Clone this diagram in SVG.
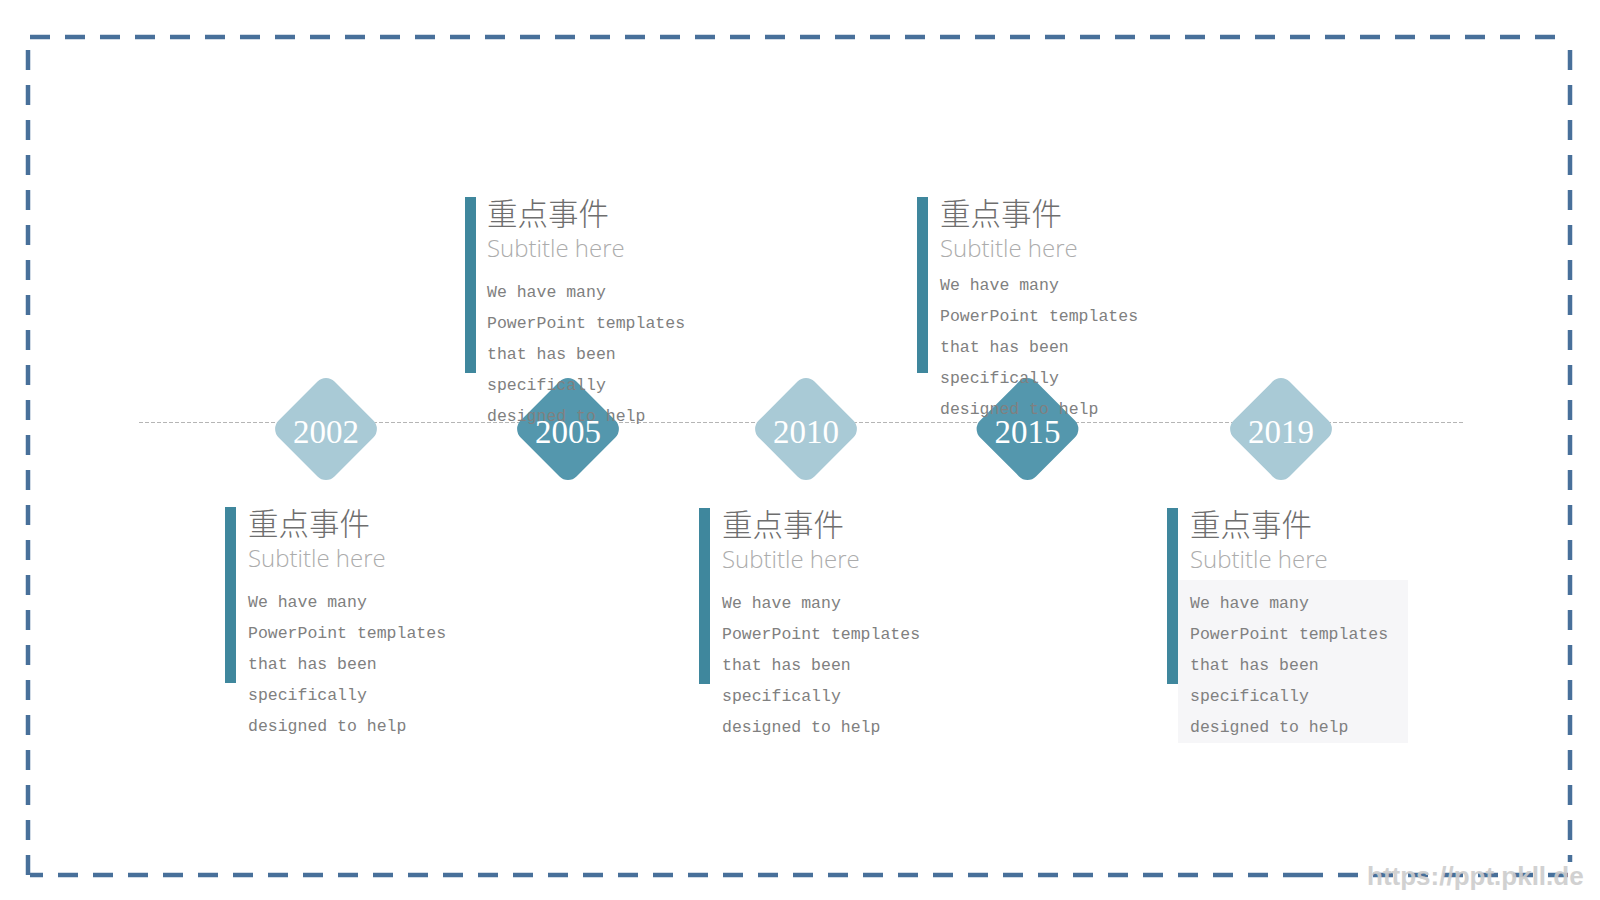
<svg xmlns="http://www.w3.org/2000/svg" width="1600" height="900" viewBox="0 0 1600 900">
<style>
.border{stroke:#48709a;stroke-width:4.5;stroke-dasharray:20 15;fill:none}
.axis{stroke:#b5b5b5;stroke-width:1;stroke-dasharray:4 2;fill:none}
.dl{fill:#a9cad6}
.dd{fill:#5497ad}
.yr{font-family:"Liberation Serif","Times New Roman",serif;font-size:33px;fill:#ffffff;text-anchor:middle}
.bar{fill:#3f879d}
.ttl{font-family:"Noto Sans CJK SC","Noto Sans",sans-serif;font-weight:300;font-size:30.5px;fill:#6e6e6e}
.sub{font-family:"Open Sans","Noto Sans",sans-serif;font-weight:300;font-size:24px;fill:#acacac}
.body{font-family:"Liberation Mono","Courier New",monospace;font-size:16.5px;fill:#808080}
.wm{font-family:"Liberation Sans",Arial,sans-serif;font-weight:bold;font-size:26px;fill:#cdcdcd;opacity:0.9}
</style>
<rect width="1600" height="900" fill="#ffffff"/>
<g id="frame">
<line class="border" x1="30" y1="37" x2="1570" y2="37"/>
<line class="border" x1="28" y1="50" x2="28" y2="875"/>
<line class="border" x1="1570" y1="50" x2="1570" y2="862"/>
<line class="border" x1="1303" y1="875" x2="30" y2="875"/>
<line class="border" x1="1303" y1="875" x2="1570" y2="875"/>
</g>
<g id="connectors">
<line class="axis" x1="139" y1="422.5" x2="1463" y2="422.5"/>
</g>
<g id="node-2002">
<rect class="dl" x="-39.5" y="-39.5" width="79" height="79" rx="12" transform="translate(326 429) rotate(45)"/>
<text class="yr" x="326" y="443">2002</text>
</g>
<g id="node-2005">
<rect class="dd" x="-39.5" y="-39.5" width="79" height="79" rx="12" transform="translate(568 429) rotate(45)"/>
<text class="yr" x="568" y="443">2005</text>
</g>
<g id="node-2010">
<rect class="dl" x="-39.5" y="-39.5" width="79" height="79" rx="12" transform="translate(806 429) rotate(45)"/>
<text class="yr" x="806" y="443">2010</text>
</g>
<g id="node-2015">
<rect class="dd" x="-39.5" y="-39.5" width="79" height="79" rx="12" transform="translate(1027.5 429) rotate(45)"/>
<text class="yr" x="1027.5" y="443">2015</text>
</g>
<g id="node-2019">
<rect class="dl" x="-39.5" y="-39.5" width="79" height="79" rx="12" transform="translate(1281 429) rotate(45)"/>
<text class="yr" x="1281" y="443">2019</text>
</g>
<g id="event-1">
<rect class="bar" x="225" y="507" width="11" height="176"/>
<text class="ttl" x="248" y="535">重点事件</text>
<text class="sub" x="248" y="567">Subtitle here</text>
<text class="body" x="248" y="607">We have many</text>
<text class="body" x="248" y="638">PowerPoint templates</text>
<text class="body" x="248" y="669">that has been</text>
<text class="body" x="248" y="700">specifically</text>
<text class="body" x="248" y="731">designed to help</text>
</g>
<g id="event-2">
<rect class="bar" x="465" y="197" width="11" height="176"/>
<text class="ttl" x="487" y="225">重点事件</text>
<text class="sub" x="487" y="257">Subtitle here</text>
<text class="body" x="487" y="297">We have many</text>
<text class="body" x="487" y="328">PowerPoint templates</text>
<text class="body" x="487" y="359">that has been</text>
<text class="body" x="487" y="390">specifically</text>
<text class="body" x="487" y="421">designed to help</text>
</g>
<g id="event-3">
<rect class="bar" x="699" y="508" width="11" height="176"/>
<text class="ttl" x="722" y="536">重点事件</text>
<text class="sub" x="722" y="568">Subtitle here</text>
<text class="body" x="722" y="608">We have many</text>
<text class="body" x="722" y="639">PowerPoint templates</text>
<text class="body" x="722" y="670">that has been</text>
<text class="body" x="722" y="701">specifically</text>
<text class="body" x="722" y="732">designed to help</text>
</g>
<g id="event-4">
<rect class="bar" x="917" y="197" width="11" height="176"/>
<text class="ttl" x="940" y="225">重点事件</text>
<text class="sub" x="940" y="257">Subtitle here</text>
<text class="body" x="940" y="290">We have many</text>
<text class="body" x="940" y="321">PowerPoint templates</text>
<text class="body" x="940" y="352">that has been</text>
<text class="body" x="940" y="383">specifically</text>
<text class="body" x="940" y="414">designed to help</text>
</g>
<g id="event-5">
<rect x="1178" y="580" width="230" height="163" fill="#f6f6f8"/>
<rect class="bar" x="1167" y="508" width="11" height="176"/>
<text class="ttl" x="1190" y="536">重点事件</text>
<text class="sub" x="1190" y="568">Subtitle here</text>
<text class="body" x="1190" y="608">We have many</text>
<text class="body" x="1190" y="639">PowerPoint templates</text>
<text class="body" x="1190" y="670">that has been</text>
<text class="body" x="1190" y="701">specifically</text>
<text class="body" x="1190" y="732">designed to help</text>
</g>
<text class="wm" x="1367" y="885">https://ppt.pkll.de</text>
</svg>
